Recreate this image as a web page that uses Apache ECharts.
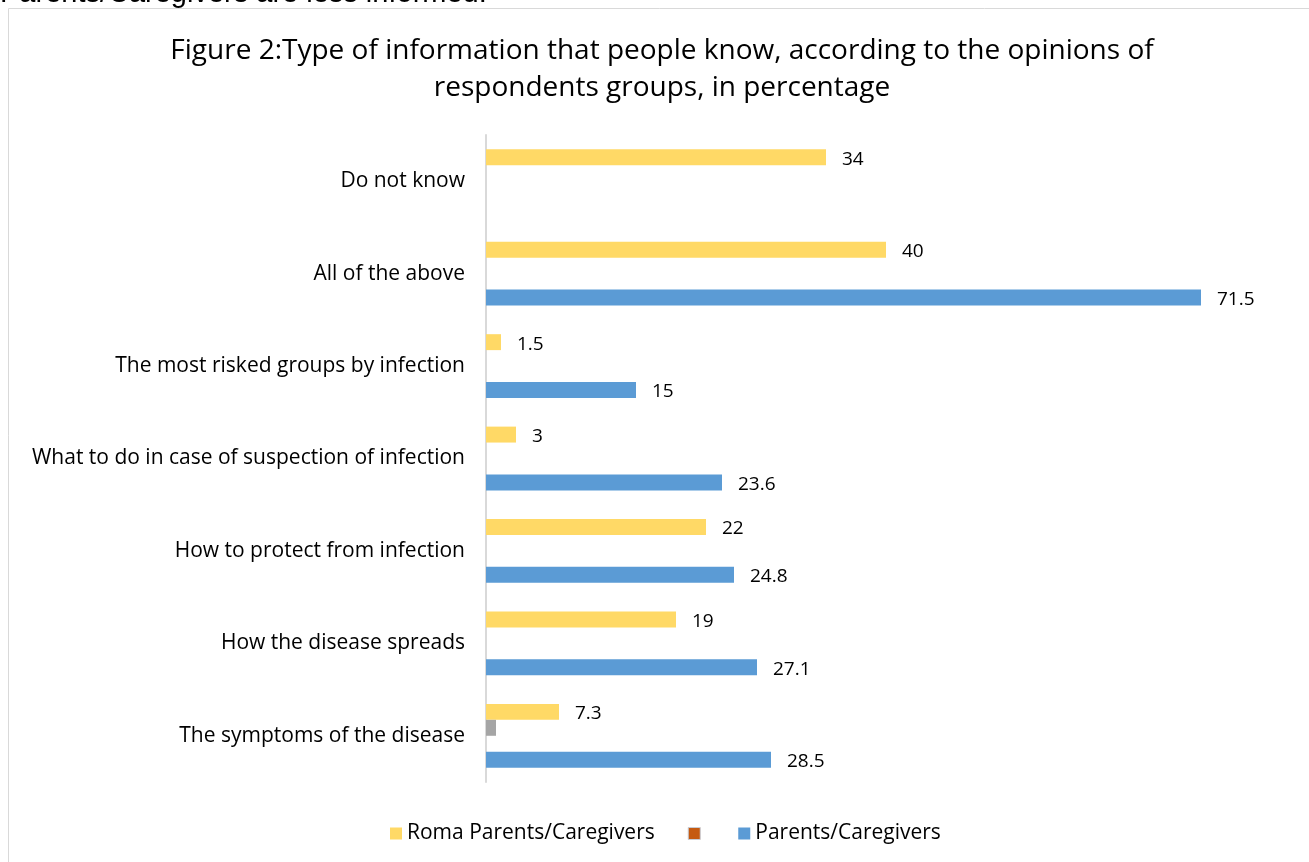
<!DOCTYPE html>
<html>
<head>
<meta charset="utf-8">
<script src="https://cdn.jsdelivr.net/npm/echarts@6/dist/echarts.min.js"></script>
<style>
  html, body { margin: 0; padding: 0; background: #fff; }
  #chart { width: 1309px; height: 862px; }
</style>
</head>
<body>
<div id="chart"></div>
<script>
const categories = [
  'The symptoms of the disease',
  'How the disease spreads',
  'How to protect from infection',
  'What to do in case of suspection of infection',
  'The most risked groups by infection',
  'All of the above',
  'Do not know'
];
const romaValues = [7.3, 19, 22, 3, 1.5, 40, 34];
const grayValues = [1, null, null, null, null, null, null];
const orangeValues = [null, null, null, null, null, null, null];
const parentsValues = [28.5, 27.1, 24.8, 23.6, 15, 71.5, null];

const FONT = 'Open Sans';
const chart = echarts.init(document.getElementById('chart'));
const valueLabel = {
  show: true, position: 'right', distance: 16, offset: [0, 2],
  color: '#000', fontFamily: FONT, fontSize: 19
};
chart.setOption({
  animation: false,
  graphic: [
    { type: 'rect', silent: true, shape: { x: 8.5, y: 8.5, width: 1320, height: 870 },
      style: { fill: 'none', stroke: '#d9d9d9', lineWidth: 1 } },
    { type: 'text', x: 0, y: -21, silent: true,
      style: { text: 'Parents/Caregivers are less informed.', fill: '#000',
               font: '29px "Liberation Sans"' } },
    { type: 'text', x: 662, y: 33, silent: true,
      style: { text: 'Figure 2:Type of information that people know, according to the opinions of\nrespondents groups, in percentage',
               fill: '#000', font: '28px "Open Sans"', align: 'center', lineHeight: 37 } }
  ],
  legend: {
    left: 385, top: 818,
    itemWidth: 12, itemHeight: 12, itemGap: 33,
    textStyle: { color: '#000', fontFamily: FONT, fontSize: 21 },
    data: [
      { name: 'Roma Parents/Caregivers', icon: 'rect' },
      { name: '\u200b', icon: 'rect', itemStyle: { color: '#C55A11', borderColor: '#c8ccd4', borderWidth: 1 } },
      { name: 'Parents/Caregivers', icon: 'rect' }
    ]
  },
  grid: { left: 486, right: 23, top: 135, bottom: 80, containLabel: false },
  xAxis: {
    type: 'value', min: 0, max: 80,
    axisLine: { show: false }, axisTick: { show: false },
    axisLabel: { show: false }, splitLine: { show: false }
  },
  yAxis: {
    type: 'category', data: categories,
    axisLine: { show: true, lineStyle: { color: '#d9d9d9', width: 2 } },
    axisTick: { show: false },
    axisLabel: { color: '#000', fontFamily: FONT, fontSize: 21, margin: 21, padding: [6, 0, 0, 0] }
  },
  series: [
    { name: 'Roma Parents/Caregivers', type: 'bar', data: romaValues,
      barGap: '0%', barCategoryGap: '31%',
      itemStyle: { color: '#FFD966' }, label: valueLabel },
    { name: 'gray', type: 'bar', data: grayValues,
      itemStyle: { color: '#A5A5A5' } },
    { name: '\u200b', type: 'bar', data: orangeValues,
      itemStyle: { color: '#C55A11' } },
    { name: 'Parents/Caregivers', type: 'bar', data: parentsValues,
      itemStyle: { color: '#5B9BD5' }, label: valueLabel }
  ]
});
</script>
</body>
</html>
